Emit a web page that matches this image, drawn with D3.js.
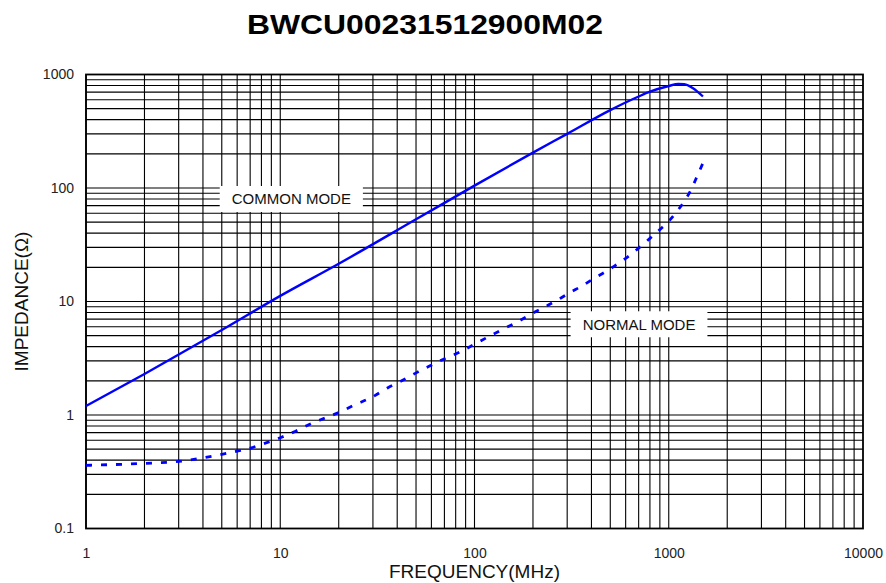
<!DOCTYPE html>
<html>
<head>
<meta charset="utf-8">
<script src="https://cdn.jsdelivr.net/npm/d3@7"></script>
<style>
  body { margin: 0; background: #fff; }
  text { font-family: Arial, "Liberation Sans", sans-serif; }
</style>
</head>
<body>
<div id="chart"></div>
<script>
const title = "BWCU00231512900M02";

// common mode impedance (solid line)
const commonFreq = [1, 2, 5, 10, 20, 50, 100, 200, 300, 500, 700, 800, 1000, 1120, 1200, 1333, 1500];
const commonZ    = [1.2, 2.3, 5.6, 11.2, 21.5, 53, 105, 205, 300, 486, 640, 705, 792, 826, 820, 758, 640];

// normal mode impedance (dashed line)
const normalFreq = [1, 2, 3, 4, 5, 6, 7, 8, 10, 12, 14, 17, 20, 24, 30, 36, 41, 50, 60, 72, 83, 100,
  120, 140, 166, 200, 240, 280, 310, 360, 410, 480, 520, 600, 700, 800, 900, 1000, 1100, 1200, 1300, 1400, 1500];
const normalZ    = [0.36, 0.375, 0.39, 0.42, 0.45, 0.48, 0.51, 0.55, 0.63, 0.72, 0.82, 0.94, 1.05, 1.22, 1.45, 1.75, 1.95, 2.35, 2.75, 3.2, 3.55, 4.2,
  4.97, 5.7, 6.6, 7.9, 9.3, 10.8, 12, 13.8, 15.9, 18.6, 20.3, 24, 29.5, 36, 43, 51, 62, 76, 96, 127, 166];

const xTicks = [1, 10, 100, 1000, 10000];
const yTicks = [0.1, 1, 10, 100, 1000];

const labels = [
  { text: "COMMON MODE", f: 11.4, z: 80 },
  { text: "NORMAL MODE", f: 703, z: 6.3 }
];

const W = 886, H = 583;
const margin = { top: 74.5, right: 23, bottom: 54.5, left: 86 };
const width = W - margin.left - margin.right;
const height = H - margin.top - margin.bottom;

const x = d3.scaleLog().domain([1, 10000]).range([0, width]);
const y = d3.scaleLog().domain([0.1, 1000]).range([height, 0]);

const svg = d3.select("#chart").append("svg")
  .attr("width", W).attr("height", H);

svg.append("text")
  .attr("x", 425).attr("y", 34)
  .attr("text-anchor", "middle")
  .attr("font-size", 28).attr("font-weight", "bold")
  .attr("textLength", 356).attr("lengthAdjust", "spacingAndGlyphs")
  .text(title);

const g = svg.append("g").attr("transform", `translate(${margin.left},${margin.top})`);

// grid lines, every 1..9 of each decade
const xGrid = [];
for (let d = 1; d < 10000; d *= 10) for (let k = 1; k < 10; k++) xGrid.push(d * k);
const yGrid = [];
for (let d = 0.1; d < 999; d *= 10) for (let k = 1; k < 10; k++) yGrid.push(d * k);

g.append("g").selectAll("line").data(xGrid).join("line")
  .attr("x1", d => x(d)).attr("x2", d => x(d))
  .attr("y1", 0).attr("y2", height)
  .attr("stroke", "#000").attr("stroke-width", 1.1);

g.append("g").selectAll("line").data(yGrid).join("line")
  .attr("y1", d => y(d)).attr("y2", d => y(d))
  .attr("x1", 0).attr("x2", width)
  .attr("stroke", "#000").attr("stroke-width", 1.1);

g.append("rect")
  .attr("width", width).attr("height", height)
  .attr("fill", "none").attr("stroke", "#000").attr("stroke-width", 1.8);

// axes (labels only)
const xAxis = d3.axisBottom(x).tickValues(xTicks).tickFormat(d3.format("d")).tickSize(0).tickPadding(20);
const yAxis = d3.axisLeft(y).tickValues(yTicks).tickFormat(d => d < 1 ? "0.1" : d3.format("d")(d)).tickSize(0).tickPadding(12);

const gx = g.append("g").attr("transform", `translate(0,${height})`).call(xAxis);
const gy = g.append("g").call(yAxis);
[gx, gy].forEach(a => {
  a.select(".domain").remove();
  a.selectAll("text").attr("font-size", 14).attr("fill", "#222")
    .attr("font-family", "Arial, 'Liberation Sans', sans-serif");
});

// curves
const line = d3.line()
  .x(d => x(d[0])).y(d => y(d[1]))
  .curve(d3.curveMonotoneX);

g.append("path")
  .datum(d3.zip(commonFreq, commonZ))
  .attr("d", line)
  .attr("fill", "none").attr("stroke", "#0000ff").attr("stroke-width", 2.4);

g.append("path")
  .datum(d3.zip(normalFreq, normalZ))
  .attr("d", line)
  .attr("fill", "none").attr("stroke", "#0000ff").attr("stroke-width", 2.8)
  .attr("stroke-dasharray", "6,9");

// in-plot labels with white boxes
labels.forEach(l => {
  const lg = g.append("g").attr("transform", `translate(${x(l.f)},${y(l.z)})`);
  const t = lg.append("text")
    .attr("text-anchor", "middle").attr("dy", "0.36em")
    .attr("font-size", 15).attr("fill", "#111")
    .text(l.text);
  const bb = t.node().getBBox();
  lg.insert("rect", "text")
    .attr("x", bb.x - 12).attr("y", -13)
    .attr("width", bb.width + 24).attr("height", 26)
    .attr("fill", "#fff");
});

// axis titles
svg.append("text")
  .attr("x", margin.left + width / 2).attr("y", 578)
  .attr("text-anchor", "middle").attr("font-size", 19).attr("fill", "#111")
  .text("FREQUENCY(MHz)");

svg.append("text")
  .attr("transform", `translate(28,${margin.top + height / 2}) rotate(-90)`)
  .attr("text-anchor", "middle").attr("font-size", 19).attr("fill", "#111")
  .text("IMPEDANCE(Ω)");
</script>
</body>
</html>
